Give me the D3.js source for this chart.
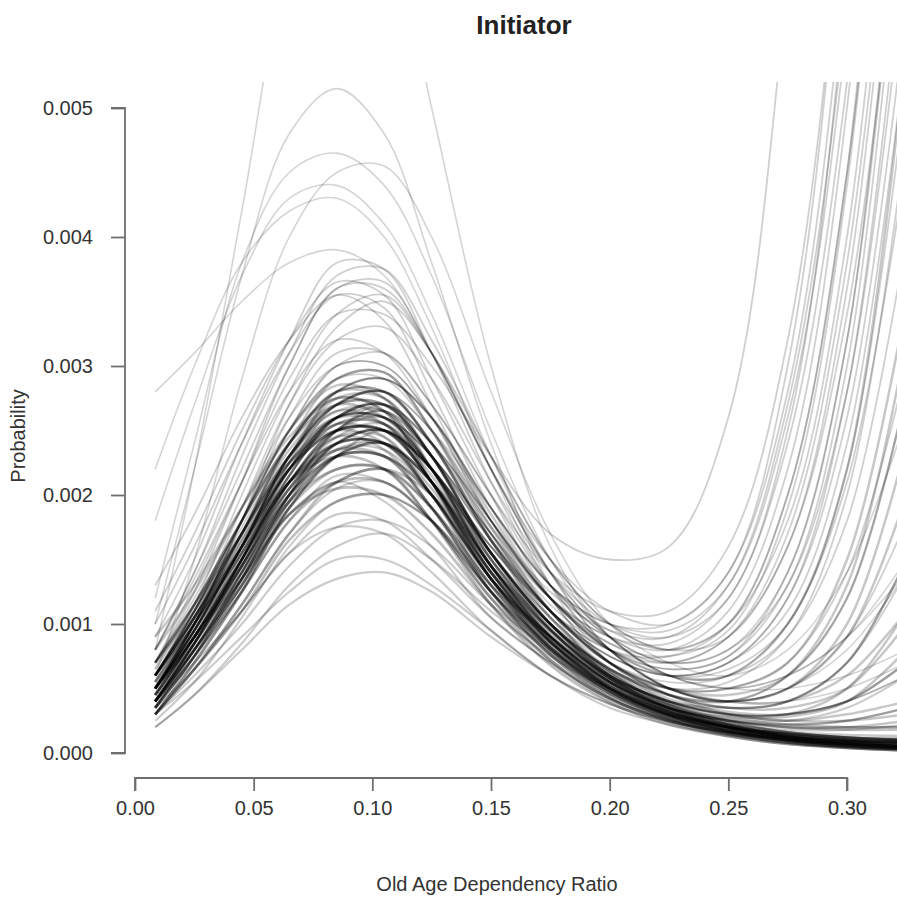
<!DOCTYPE html>
<html><head><meta charset="utf-8">
<script src="https://cdn.jsdelivr.net/npm/d3@7"></script>
<style>
html,body{margin:0;padding:0;background:#fff;}
svg{display:block;}
text{font-family:"Liberation Sans",Arial,Helvetica,sans-serif;}
</style></head>
<body>
<div id="chart"></div>
<script>
// ---- data (probabilities stored in units of 1e-4) ----
const title = "Initiator";
const xLabel = "Old Age Dependency Ratio";
const yLabel = "Probability";
const xTicks = [0.00, 0.05, 0.10, 0.15, 0.20, 0.25, 0.30];
const xTickLabels = ["0.00","0.05","0.10","0.15","0.20","0.25","0.30"];
const yTicks = [0.000, 0.001, 0.002, 0.003, 0.004, 0.005];
const yTickLabels = ["0.000","0.001","0.002","0.003","0.004","0.005"];
const gridX = [0.0085, 0.025, 0.045, 0.065, 0.085, 0.105, 0.125, 0.15, 0.175, 0.2, 0.225, 0.25, 0.275, 0.3, 0.325];
const valueUnit = 1e-4;

const highCurves = [
  [10, 22, 37, 48, 51.5, 48, 38, 24, 13, 7, 4, 3, 3, 4, 6],
  [8, 22, 42, 62, 72, 66, 50, 30, 16, 9, 6, 5, 6, 9, 15],
  [12, 24, 38, 45, 46.5, 44, 37, 25, 15, 9, 6, 5, 6, 9, 14],
  [6, 15, 29, 40, 45, 45.5, 40, 28, 17, 10, 7, 6, 8, 14, 26],
  [22, 30, 38, 42, 43, 40, 33, 22, 13, 8, 5, 4, 4, 5, 7],
  [28, 31, 35, 38, 39, 37, 31, 22, 14, 9, 6, 5, 5, 6, 8],
  [18, 27, 37, 43, 44, 41, 34, 23, 14, 8, 5, 4, 5, 8, 14]
];
const midCurves = [
  [9, 15, 24, 32, 38, 37.5, 31, 21, 13, 8, 5, 4, 5, 9, 18],
  [7, 12.5, 21, 30, 36, 36.5, 31, 22, 14, 8, 5, 4, 6, 12, 28],
  [11, 17, 25, 32, 36.5, 35.5, 29, 20, 12, 7, 4.5, 3.5, 4, 7, 14],
  [8, 14, 23, 31, 37, 37.5, 32, 23, 15, 10, 8, 9, 16, 34, 70],
  [13, 18.5, 26, 32, 35.5, 33.5, 27, 18, 11, 6, 4, 3, 3, 4, 6],
  [6, 11.5, 20, 28, 34, 35.5, 31, 23, 15, 10, 8, 10, 20, 45, 90],
  [10, 16, 24, 31, 35.5, 34.5, 28, 19, 12, 7, 5, 5, 7, 14, 30],
  [5, 10, 18, 27, 33, 35, 31, 22, 14, 9, 6, 6, 9, 18, 40]
];
const coreCurves = [
  [6, 11, 18, 25, 29, 29.5, 25, 17, 11, 7, 4.5, 3, 2.5, 2.5, 3],
  [5, 10, 17, 24, 29, 29.5, 25, 17.5, 11, 7, 5, 4, 5, 9, 20],
  [7, 11.5, 18, 24, 28, 27.5, 23, 15.5, 10, 6, 4, 2.8, 2.2, 2, 2],
  [4, 8.5, 15, 22.5, 28, 29, 26, 18.5, 12, 8, 5, 4, 4, 6, 11],
  [8, 12.5, 19, 25, 28.5, 27.5, 22, 14.5, 9, 5.5, 3.5, 2.5, 2, 2, 2.5],
  [5, 9.5, 16, 23, 27, 28, 24, 16.5, 11, 7, 5, 5, 7, 15, 35],
  [6, 10.5, 17, 23.5, 27, 27, 23, 15.5, 10, 6, 4, 3, 2.5, 3, 4],
  [4.5, 9, 15.5, 22, 26, 27, 23, 16.5, 11, 7, 4.5, 3.5, 4, 7, 15],
  [7, 11.5, 18, 24, 27.5, 26.5, 21, 13.5, 8.5, 5, 3, 2, 1.5, 1.2, 1],
  [5, 9.5, 16, 22.5, 26, 26, 22, 15.5, 10, 6.5, 4.5, 4, 6, 13, 32],
  [9, 13, 19, 24.5, 27.5, 26.5, 21, 13.5, 9, 5, 3, 2, 1.6, 1.4, 1.3],
  [4, 8.5, 15, 21.5, 26, 27, 24, 17.5, 12, 8, 6, 6, 10, 22, 55],
  [6, 10.5, 17, 23, 26.5, 25.5, 21, 14.5, 9, 5.5, 3.5, 2.5, 2, 2, 2],
  [5, 9.5, 16, 22, 25.5, 25.5, 21, 14.5, 9.5, 6, 4, 3, 3, 4, 7],
  [3.5, 7.5, 13.5, 20, 25, 26.5, 23, 16.5, 11, 7, 5, 4.5, 6, 12, 28],
  [7, 11, 17, 22.5, 25.5, 24.5, 20, 13.5, 8.5, 5, 3, 2, 1.5, 1.2, 1],
  [5, 9, 15, 21, 24.5, 24.5, 20, 13.5, 9, 5.5, 3.5, 2.5, 2.2, 2.5, 3.5],
  [4, 8, 14, 20.5, 24.5, 25.5, 21.5, 14.5, 10, 6.5, 4.5, 4, 5, 10, 24],
  [6, 10, 15.5, 21, 24.5, 23.5, 19, 12.5, 8, 4.8, 3, 2, 1.4, 1.1, 0.9],
  [4.5, 8.5, 14.5, 20, 23.5, 23.5, 20, 13.5, 9, 5.5, 3.5, 2.8, 2.8, 4, 8],
  [5, 9.5, 16, 22, 25.5, 25.5, 22, 15.5, 10, 6.5, 4.5, 3.5, 3.5, 5, 10],
  [6, 10.5, 17, 23, 26.5, 26.5, 22, 14.5, 9.5, 6, 4, 3, 3, 5, 11],
  [3.5, 7.5, 13.5, 20, 25, 26.5, 23, 15.5, 10.5, 6.5, 4.2, 3.2, 3, 4, 7],
  [5.5, 10, 16.5, 23, 27.5, 27.5, 23, 15.5, 10, 6, 3.8, 2.6, 2, 1.8, 1.8]
];
const denseCurves = [
  [4, 9, 15, 22, 26, 26.5, 22, 14.5, 9, 5.5, 3.2, 1.9, 1.1, 0.7, 0.5],
  [5, 10, 16, 23, 27, 27, 23, 15, 9.5, 5.8, 3.4, 2, 1.2, 0.8, 0.5],
  [3.5, 8, 13.5, 20, 24, 25, 21, 14, 9, 5.6, 3.3, 2, 1.2, 0.7, 0.4],
  [6, 10.5, 16, 22, 25, 25, 21, 13.5, 8.2, 4.8, 2.7, 1.5, 0.8, 0.5, 0.3],
  [4.5, 9, 14.5, 21, 24, 24, 20, 13, 8, 4.8, 2.9, 1.7, 1, 0.7, 0.5],
  [3, 7, 12.5, 19, 23, 24, 21, 14.5, 9.5, 5.8, 3.6, 2.2, 1.4, 1, 0.8],
  [5, 9.5, 15, 21, 23.5, 23, 19, 12.5, 7.6, 4.4, 2.6, 1.5, 0.8, 0.5, 0.3],
  [4, 8.5, 14, 20, 23, 23, 20, 13.5, 8.6, 5.2, 3.1, 1.9, 1.3, 1, 0.9],
  [6, 11, 17, 23, 26, 25.5, 21, 13.5, 8, 4.6, 2.6, 1.4, 0.8, 0.4, 0.2],
  [3.5, 7.5, 13, 19.5, 24, 25, 22, 15.5, 10, 6.2, 3.8, 2.4, 1.6, 1.2, 1],
  [5, 9, 14, 19.5, 22, 22, 18, 12, 7.2, 4.2, 2.5, 1.5, 0.9, 0.5, 0.3],
  [4, 8, 13, 19, 22, 22, 19, 13, 8.2, 4.8, 2.9, 1.8, 1.2, 0.9, 0.7],
  [7, 11.5, 17, 22.5, 25, 24, 20, 12.5, 7.6, 4.3, 2.4, 1.3, 0.7, 0.4, 0.2],
  [3, 6.5, 11.5, 17, 21, 22, 20, 14, 9, 5.8, 3.7, 2.3, 1.6, 1.2, 1.1],
  [5.5, 10, 15.5, 21, 24, 24, 20, 13.5, 8.2, 4.8, 2.8, 1.6, 1, 0.6, 0.4],
  [4, 8, 13.5, 19.5, 23, 24, 21, 14.5, 9.2, 5.6, 3.4, 2.1, 1.3, 0.9, 0.6],
  [4.5, 9, 15, 21.5, 26, 27, 23, 15.5, 9.6, 5.8, 3.4, 2, 1.2, 0.7, 0.5],
  [6, 10.5, 16, 21, 23, 22, 18, 11.5, 6.8, 3.9, 2.2, 1.3, 0.7, 0.4, 0.2],
  [3.5, 7.5, 12.5, 18, 21, 22, 19, 13, 8.2, 5, 3.1, 2, 1.3, 1, 0.8],
  [5, 10, 16, 23, 27, 28, 24, 16.5, 10.5, 6.3, 3.7, 2.2, 1.3, 0.8, 0.5],
  [4, 8.5, 14.5, 20.5, 24, 24, 21, 14, 8.7, 5.2, 3, 1.8, 1, 0.6, 0.4],
  [5, 9, 14.5, 20, 23, 23, 19, 12.5, 7.8, 4.6, 2.7, 1.7, 1, 0.7, 0.5],
  [3, 7, 12.5, 19, 23, 25, 22, 15.5, 10, 6.3, 3.9, 2.5, 1.6, 1.2, 1],
  [6.5, 11.5, 18, 24, 27, 26, 22, 14.5, 8.7, 5, 2.9, 1.7, 0.9, 0.5, 0.3],
  [4.5, 9, 14.5, 20.5, 23.5, 24, 20.5, 14, 8.7, 5.3, 3.2, 2, 1.2, 0.8, 0.6],
  [5, 9.5, 15.5, 22, 25, 25, 22, 15, 9.6, 5.8, 3.5, 2.2, 1.4, 1, 0.8],
  [4, 8, 13, 18.5, 21, 21, 18, 12, 7.7, 4.6, 2.8, 1.8, 1.1, 0.8, 0.6],
  [5.5, 10.5, 17, 24, 28, 28, 24, 16.5, 10, 6, 3.5, 2, 1.2, 0.7, 0.4],
  [3.5, 8, 13.5, 19.5, 23, 23, 20, 13.5, 8.7, 5.3, 3.2, 2, 1.3, 0.9, 0.7],
  [6, 10.5, 16.5, 22, 25, 25, 21, 14, 8.6, 5, 2.9, 1.7, 1, 0.6, 0.3],
  [4, 8.5, 14.5, 21, 25, 26, 22, 15, 9.6, 5.8, 3.5, 2.2, 1.4, 1, 0.9],
  [5, 9, 13.5, 18.5, 20.5, 20, 17, 11.5, 7.2, 4.2, 2.5, 1.6, 1, 0.7, 0.5],
  [4.5, 9, 15, 21, 25, 25, 21, 14, 8.6, 5.1, 2.9, 1.7, 1, 0.6, 0.4],
  [3, 6.5, 11, 16.5, 19.5, 20, 18, 12.5, 8.2, 5.1, 3.2, 2.1, 1.4, 1, 0.8],
  [5, 10, 16, 22.5, 26, 26, 22, 14.5, 9.1, 5.5, 3.2, 1.9, 1.1, 0.6, 0.4]
];
const lowCurves = [
  [4, 7.5, 12.5, 18, 21.5, 21, 18, 12.5, 8, 5, 3, 2, 1.5, 1.2, 1.1],
  [3, 6.5, 11.5, 17, 20.5, 21, 18, 12.5, 8.5, 5.5, 3.5, 2.5, 2.2, 2.5, 3.5],
  [5, 8.5, 13.5, 18.5, 21, 19.5, 16, 10.5, 7, 4, 2.5, 1.6, 1.1, 0.8, 0.6],
  [2.5, 5.5, 10.5, 16, 19.5, 20, 18, 13, 9, 6, 4, 3.5, 4, 7, 15],
  [3, 6, 10, 14.5, 17.5, 18, 16, 11.5, 8, 5, 3.2, 2.2, 1.8, 1.8, 2.2],
  [4, 7, 11, 15.5, 17.5, 17, 14, 9.5, 6, 3.5, 2.2, 1.4, 1, 0.7, 0.5],
  [2, 4.5, 8.5, 13, 16, 17, 15, 11, 7.5, 5, 3.4, 2.6, 2.5, 3.5, 6],
  [3, 5.5, 9, 12.5, 15, 15, 13, 9.5, 6, 3.8, 2.4, 1.6, 1.1, 0.9, 0.8],
  [2, 4.5, 8, 11.5, 13.5, 14, 12.5, 9, 6, 3.8, 2.4, 1.6, 1.2, 1, 1],
  [3.5, 6.5, 11, 15.5, 18.5, 18, 15, 10.5, 7, 4.2, 2.6, 1.7, 1.2, 0.9, 0.8]
];
const risingCurves = [
  [7, 13, 21, 29, 34, 34, 30, 23, 17, 15, 16, 26, 60, 120, 200],
  [5, 10, 18, 26, 31, 31, 27, 20, 14, 11, 11, 16, 32, 70, 140],
  [5, 9.5, 16, 23, 27, 28, 25, 18, 12, 9, 8, 11, 22, 50, 110],
  [4, 8.5, 15, 22, 27, 28, 25, 19, 13, 9.5, 8, 10, 18, 40, 85],
  [6, 11, 17.5, 24, 28, 28, 24, 17, 11, 7.5, 6, 7, 12, 28, 65],
  [4, 8.5, 15, 21.5, 26, 27, 24, 18, 12, 8, 6.5, 7.5, 13, 30, 70],
  [3, 7.5, 14, 21, 25, 27, 24, 18, 12, 8.5, 7, 9, 17, 38, 80],
  [5, 10, 17, 24, 28, 29, 26, 19, 13, 9, 7, 8, 14, 32, 75],
  [4, 7.5, 13, 19, 23, 24, 21, 16, 11, 7.5, 6, 7, 11, 24, 55],
  [5, 9, 15, 20.5, 24, 24, 21, 15, 10, 6.5, 5, 5.5, 9, 20, 48],
  [6, 11, 19, 27, 32, 33, 29, 21, 14, 10, 9, 12, 25, 60, 130],
  [4, 8.5, 15, 21.5, 25.5, 26, 23, 17, 11, 7.5, 6, 7, 12, 26, 58],
  [8, 13.5, 21, 28, 32, 31, 26, 18, 12, 8, 6, 6.5, 10, 22, 52],
  [5, 10, 18, 25, 30, 31, 27, 20, 13, 9, 7, 8, 13, 28, 62],
  [6, 11, 18, 25, 30, 30, 26, 19, 13, 10, 10, 14, 28, 62, 125],
  [5, 9.5, 16, 23, 28, 29, 26, 19, 13, 10, 9.5, 13, 26, 56, 115],
  [4, 8, 14, 20, 24, 25, 22, 16, 11, 8, 7, 9, 16, 36, 78],
  [7, 12, 19, 26, 30, 30, 26, 18, 12, 8.5, 7.5, 9.5, 19, 44, 95],
  [5, 9, 15, 21, 25, 25, 22, 16, 11, 8, 7.5, 10, 20, 45, 100],
  [6, 11, 18, 25, 29, 29, 25, 18, 12.5, 9.5, 9, 13, 27, 58, 120],
  [4, 8, 14, 20, 24, 25, 22, 16, 10.5, 7, 5.5, 6, 10, 21, 46],
  [5, 9.5, 16, 22, 26, 26, 23, 17, 11.5, 8, 6.5, 7.5, 14, 32, 72],
  [8, 14, 22, 30, 36, 36, 31, 22, 15, 11, 10, 14, 30, 70, 150],
  [6, 10, 16, 22, 26, 26, 23, 17, 12, 9, 8.5, 12, 24, 52, 105]
];

// ---- chart ----
const W = 897, H = 898;
const svg = d3.select("#chart").append("svg").attr("width", W).attr("height", H);

const x = d3.scaleLinear().domain([0, 0.30]).range([135, 847]);
const y = d3.scaleLinear().domain([0, 0.005]).range([753, 108]);

const clipTop = 82, clipLeft = 127, clipRight = 897, clipBottom = 779;
svg.append("defs").append("clipPath").attr("id", "plotclip")
  .append("rect").attr("x", clipLeft).attr("y", clipTop)
  .attr("width", clipRight - clipLeft).attr("height", clipBottom - clipTop);

const line = d3.line()
  .x((d, i) => x(gridX[i]))
  .y(d => y(d * valueUnit))
  .curve(d3.curveCatmullRom.alpha(0.5));

const groups = [
  {curves: highCurves, w: 1.6, o: 0.17},
  {curves: midCurves, w: 1.8, o: 0.19},
  {curves: risingCurves, w: 1.8, o: 0.19},
  {curves: lowCurves, w: 2.2, o: 0.2},
  {curves: coreCurves, w: 2.5, o: 0.22},
  {curves: denseCurves, w: 2.7, o: 0.25}
];
const plot = svg.append("g").attr("clip-path", "url(#plotclip)");
groups.forEach(gr => {
  plot.append("g").selectAll("path").data(gr.curves).join("path")
    .attr("d", line)
    .attr("fill", "none")
    .attr("stroke", "#000")
    .attr("stroke-opacity", gr.o)
    .attr("stroke-width", gr.w);
});

const axisColor = "#6e6e6e", textColor = "#333";

// y axis
const yAxis = d3.axisLeft(y).tickValues(yTicks)
  .tickFormat((d, i) => yTickLabels[i]).tickSize(14).tickPadding(18);
const gy = svg.append("g").attr("transform", "translate(125,0)").call(yAxis);
gy.select(".domain").attr("stroke", axisColor).attr("stroke-width", 1.8).attr("d", `M-14,${y(0.005)}H0V${y(0)}H-14`);
gy.selectAll(".tick line").attr("stroke", axisColor).attr("stroke-width", 1.8);
gy.selectAll(".tick text").attr("fill", textColor).style("font-size", "20px")
  .style("font-family", '"Liberation Sans",Arial,sans-serif');

// x axis
const xAxis = d3.axisBottom(x).tickValues(xTicks)
  .tickFormat((d, i) => xTickLabels[i]).tickSize(13).tickPadding(10);
const gx = svg.append("g").attr("transform", "translate(0,778)").call(xAxis);
gx.select(".domain").attr("stroke", axisColor).attr("stroke-width", 1.8).attr("d", `M${x(0)},13V0H${x(0.30)}V13`);
gx.selectAll(".tick line").attr("stroke", axisColor).attr("stroke-width", 1.8);
gx.selectAll(".tick text").attr("fill", textColor).style("font-size", "20px")
  .style("font-family", '"Liberation Sans",Arial,sans-serif');

// titles
svg.append("text").attr("x", 524).attr("y", 34).attr("text-anchor", "middle")
  .attr("font-weight", "bold").attr("font-size", 26).attr("fill", "#222").text(title);
svg.append("text").attr("x", 497).attr("y", 891).attr("text-anchor", "middle")
  .attr("font-size", 20).attr("fill", textColor).text(xLabel);
svg.append("text").attr("transform", "translate(25,436) rotate(-90)").attr("text-anchor", "middle")
  .attr("font-size", 20).attr("fill", textColor).text(yLabel);
</script>
</body></html>
